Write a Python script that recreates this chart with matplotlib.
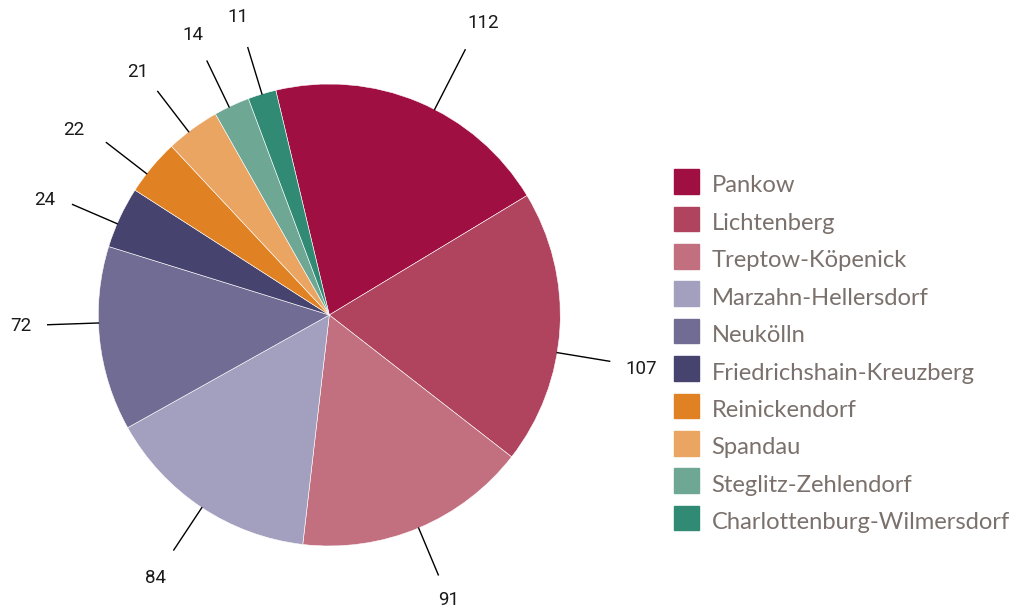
import numpy as np
import matplotlib
matplotlib.use("Agg")
import matplotlib.pyplot as plt
from matplotlib import font_manager
from matplotlib.patches import Rectangle

# Bezirke und Werte
bezirke = ["Pankow", "Lichtenberg", "Treptow-Köpenick", "Marzahn-Hellersdorf",
           "Neukölln", "Friedrichshain-Kreuzberg", "Reinickendorf", "Spandau",
           "Steglitz-Zehlendorf", "Charlottenburg-Wilmersdorf"]
werte = [112, 107, 91, 84, 72, 24, 22, 21, 14, 11]
farben = ["#a00f42", "#b0435e", "#c27080", "#a39fbe", "#716c93",
          "#46436f", "#e08224", "#eba563", "#6fa795", "#318b74"]

# Beschriftungen: Winkelverschiebung (Grad), Linienende und Textabstand (in Radien)
label_shift = [4.4, 6.0, 0, -0.2, 4.0, -1.7, -2.1, -1.2, -0.7, 0]
text_shift = [5.0, 6.5, 0, -0.2, 4.0, -3.0, -4.0, -2.0, -1.0, 0]
linie_r = [1.29, 1.23, 1.22, 1.22, 1.22, 1.21, 1.22, 1.22, 1.22, 1.21]
text_r = [1.43, 1.37, 1.34, 1.365, 1.335, 1.33, 1.365, 1.34, 1.35, 1.35]

vorhanden = {f.name for f in font_manager.fontManager.ttflist}
zahl_font = "Liberation Sans Narrow" if "Liberation Sans Narrow" in vorhanden else "Roboto"

W, H = 1023, 610
fig = plt.figure(figsize=(W / 100, H / 100), dpi=100)
ax = fig.add_axes([0, 0, 1, 1])

cx, cy, r = 329.3, H - 315, 231
start = 103.4  # Grad, gegen den Uhrzeigersinn ab x-Achse

wedges, _ = ax.pie(werte, colors=farben, startangle=start, counterclock=False,
                   center=(cx, cy), radius=r, frame=True,
                   wedgeprops=dict(edgecolor="white", linewidth=0.4))
ax.set_xlim(0, W)
ax.set_ylim(0, H)
ax.set_aspect("equal")
ax.axis("off")

for w, v, s, ts, lr, tr in zip(wedges, werte, label_shift, text_shift, linie_r, text_r):
    mitte = (w.theta1 + w.theta2) / 2
    ang = np.deg2rad(mitte - s)
    ca, sa = np.cos(ang), np.sin(ang)
    ax.plot([cx + r * ca, cx + lr * r * ca], [cy + r * sa, cy + lr * r * sa],
            color="black", lw=1.0)
    ta = np.deg2rad(mitte - ts)
    ax.text(cx + tr * r * np.cos(ta), cy + tr * r * np.sin(ta), str(v), fontsize=13.5,
            family=[zahl_font, "DejaVu Sans"], color="#1a1a1a",
            ha="center", va="center")

# Legende
lx, ly0, dy, gr = 674, H - 181.5, 37.4, 24.5
for i, (name, c) in enumerate(zip(bezirke, farben)):
    y = ly0 - i * dy
    ax.add_patch(Rectangle((lx, y - gr / 2), gr, gr, color=c))
    ax.text(lx + 37.5, y - 11, name, fontsize=17.1, family=["Lato", "DejaVu Sans"],
            color="#7b716c", ha="left", va="baseline")

fig.savefig("out.png", dpi=100)
